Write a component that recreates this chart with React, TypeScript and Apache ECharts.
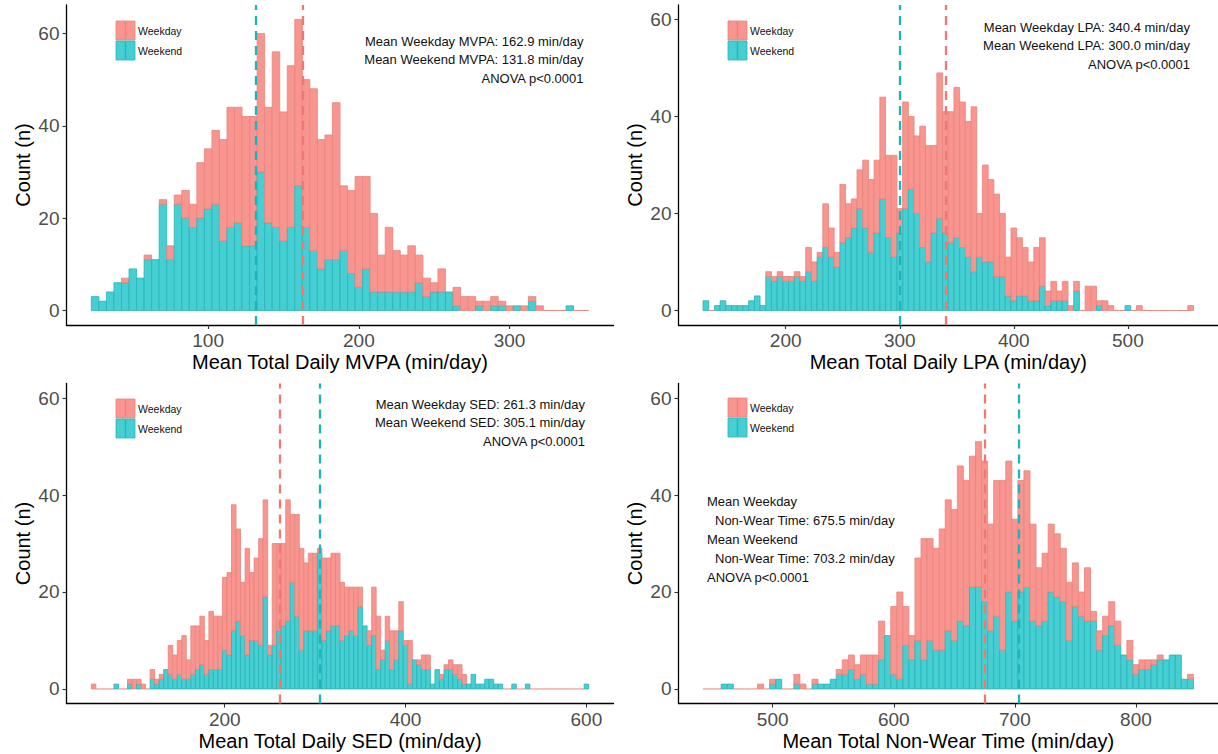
import React, { useEffect, useRef } from "react";
import * as echarts from "echarts";

// Histogram bins are 5 min wide; each array holds one count per bin.
const BIN_WIDTH = 5;

// Mean Total Daily MVPA
const mvpaFirstBin = 25;
const mvpaWeekend = [3,2,4,6,6,9,7,11,11,23, 11,23,20,18,20,22,23,15,18,19, 14,14,30,19,18,15,18,27,18,13, 9,11,11,13,8,5,9,4,4,4, 4,4,4,6,3,4,4,4,1,0, 0,1,0,1,1,0,1,0,2,0, 0,0,0,1,0,0];
const mvpaWeekday = [0,0,0,0,1,0,0,1,0,1, 3,2,6,5,12,13,16,22,26,25, 28,28,30,25,38,28,35,36,32,35, 28,27,34,14,18,24,20,17,8,14, 9,8,10,6,4,2,5,0,4,3, 3,1,2,2,1,1,0,1,1,1, 0,0,0,0,0,0];
const mvpaMeans = { weekday: 162.9, weekend: 131.8 };
const mvpaTicks = [100, 200, 300];

// Mean Total Daily LPA
const lpaFirstBin = 130;
const lpaWeekend = [2,0,1,2,1,1,1,1,2,3, 1,7,6,7,6,6,7,6,8,6, 11,13,11,9,14,15,17,21,17,12, 16,23,15,11,16,21,25,20,13,10, 16,19,16,14,15,13,11,8,11,10, 10,7,7,3,2,3,3,2,2,5, 1,2,2,2,0,4,0,0,0,1, 0,0,0,0,1,0,0,0,0,0, 0,0,0,0,0,0];
const lpaWeekday = [0,0,0,0,0,0,0,0,0,0, 0,1,1,1,1,1,1,1,5,4, 1,9,6,3,12,7,6,8,14,15, 15,21,17,21,5,22,15,16,25,24, 18,30,25,27,31,30,28,34,9,20, 17,17,13,8,15,12,10,8,11,10, 3,4,2,4,1,2,0,5,5,1, 2,1,0,0,0,0,1,0,0,0, 0,0,0,0,0,1];
const lpaMeans = { weekday: 340.4, weekend: 300.0 };
const lpaTicks = [200, 300, 400, 500];

// Mean Total Daily SED
const sedFirstBin = 55;
const sedWeekend = [0,0,0,0,0,1,0,0,1,0, 1,0,0,2,1,2,4,3,2,3, 2,2,3,4,5,3,4,4,4,8, 7,12,14,11,7,10,10,9,19,7, 9,12,13,14,22,15,8,12,12,12, 28,10,12,13,13,10,11,12,11,17, 13,9,11,4,6,10,4,6,12,9, 1,6,5,4,4,1,4,2,4,4, 3,2,1,1,3,1,1,2,2,1, 1,0,0,1,0,0,1,0,0,0, 0,0,0,0,0,0,0,0,0,1];
const sedWeekday = [1,0,0,0,0,0,0,0,1,2, 1,1,0,2,1,1,0,6,5,7, 9,4,10,9,10,7,12,11,11,15, 17,26,19,11,22,14,17,22,20,2, 21,18,17,25,14,21,21,14,16,16, 1,17,15,15,15,12,10,9,10,4, 0,3,10,11,2,5,8,6,6,1, 9,0,1,3,3,0,0,1,1,2, 2,3,2,0,0,0,0,0,0,0, 0,0,0,0,0,0,0,0,0,0, 0,0,0,0,0,0,0,0,0,0];
const sedMeans = { weekday: 261.3, weekend: 305.1 };
const sedTicks = [200, 400, 600];

// Mean Total Non-Wear Time
const nwFirstBin = 445;
const nwWeekend = [0,0,0,1,1,0,0,0,0,0, 0,1,2,0,0,1,0,0,1,1, 1,2,3,3,4,2,3,1,1,6, 11,3,2,9,6,10,6,10,8,8, 12,10,14,13,21,21,18,12,15,8, 20,14,20,21,14,13,14,20,19,18, 10,17,15,14,14,8,11,13,9,7, 6,3,4,4,5,6,6,7,7,2, 2];
const nwWeekday = [0,0,0,0,0,0,0,0,0,1, 0,1,0,0,0,2,1,0,1,0, 0,0,1,3,3,3,4,6,6,8, 0,14,18,8,5,17,25,21,21,25, 27,27,32,30,27,30,29,22,28,35, 27,21,23,24,20,12,14,14,13,11, 12,9,5,11,2,4,4,5,5,0, 4,2,2,2,1,1,0,0,0,0, 1];
const nwMeans = { weekday: 675.5, weekend: 703.2 };
const nwTicks = [500, 600, 700, 800];

const countTicks = [0, 20, 40, 60];
const legendLabels = ["Weekday", "Weekend"];

const FONT = '"Liberation Sans", Arial, Helvetica, sans-serif';
const RED_FILL = "#F8958F";
const RED_EDGE = "#E8847E";
const TEAL_FILL = "#45CFD3";
const TEAL_EDGE = "#2AB2B7";
const RED_LINE = "#F07870";
const TEAL_LINE = "#17B6BD";

type Panel = {
  firstBin: number;
  weekend: number[];
  weekday: number[];
  means: { weekday: number; weekend: number };
  ticks: number[];
  title: string;
  left: number;
  top: number;
  yLimit: number | null; // fixed upper count limit, null = from data
  legend: { x: number; y: number };
  notes: { x: number; y: number; align: "left" | "right"; lines: { text: string; dx?: number }[] };
};

const PANELS: Panel[] = [
  {
    firstBin: mvpaFirstBin, weekend: mvpaWeekend, weekday: mvpaWeekday, means: mvpaMeans, ticks: mvpaTicks,
    title: "Mean Total Daily MVPA (min/day)", left: 66.5, top: 5, yLimit: null,
    legend: { x: 116, y: 21 },
    notes: { x: 583.5, y: 41, align: "right", lines: [
      { text: "Mean Weekday MVPA: 162.9 min/day" },
      { text: "Mean Weekend MVPA: 131.8 min/day" },
      { text: "ANOVA p<0.0001" },
    ] },
  },
  {
    firstBin: lpaFirstBin, weekend: lpaWeekend, weekday: lpaWeekday, means: lpaMeans, ticks: lpaTicks,
    title: "Mean Total Daily LPA (min/day)", left: 678.5, top: 5, yLimit: 60,
    legend: { x: 728, y: 21 },
    notes: { x: 1190, y: 27, align: "right", lines: [
      { text: "Mean Weekday LPA: 340.4 min/day" },
      { text: "Mean Weekend LPA: 300.0 min/day" },
      { text: "ANOVA p<0.0001" },
    ] },
  },
  {
    firstBin: sedFirstBin, weekend: sedWeekend, weekday: sedWeekday, means: sedMeans, ticks: sedTicks,
    title: "Mean Total Daily SED (min/day)", left: 66.5, top: 383.5, yLimit: 60,
    legend: { x: 116, y: 399 },
    notes: { x: 585, y: 404, align: "right", lines: [
      { text: "Mean Weekday SED: 261.3 min/day" },
      { text: "Mean Weekend SED: 305.1 min/day" },
      { text: "ANOVA p<0.0001" },
    ] },
  },
  {
    firstBin: nwFirstBin, weekend: nwWeekend, weekday: nwWeekday, means: nwMeans, ticks: nwTicks,
    title: "Mean Total Non-Wear Time (min/day)", left: 678.5, top: 383.5, yLimit: 60,
    legend: { x: 728, y: 398 },
    notes: { x: 707, y: 501, align: "left", lines: [
      { text: "Mean Weekday" },
      { text: "Non-Wear Time: 675.5 min/day", dx: 8 },
      { text: "Mean Weekend" },
      { text: "Non-Wear Time: 703.2 min/day", dx: 8 },
      { text: "ANOVA p<0.0001" },
    ] },
  },
];

const PANEL_W = 547;
const PANEL_H = 320;

function buildOption() {
  const grids: any[] = [];
  const xAxes: any[] = [];
  const yAxes: any[] = [];
  const series: any[] = [];
  const graphics: any[] = [];

  PANELS.forEach((p, idx) => {
    const n = p.weekend.length;
    const centers = p.weekend.map((_, i) => p.firstBin + i * BIN_WIDTH);
    const lo = p.firstBin - BIN_WIDTH / 2;
    const hi = p.firstBin + (n - 1) * BIN_WIDTH + BIN_WIDTH / 2;
    const padX = (hi - lo) * 0.05;
    const tallest = Math.max(...p.weekend.map((w, i) => w + p.weekday[i]));
    const yTop = p.yLimit ?? tallest;
    const padY = yTop * 0.05;

    grids.push({ left: p.left, top: p.top, width: PANEL_W, height: PANEL_H, containLabel: false });

    xAxes.push({
      type: "value", gridIndex: idx, min: lo - padX, max: hi + padX,
      name: p.title, nameLocation: "middle", nameGap: 27,
      nameTextStyle: { fontSize: 20, color: "#000", fontFamily: FONT },
      axisLine: { show: true, onZero: false, lineStyle: { color: "#000", width: 1.3 } },
      axisTick: { show: true, length: 4, customValues: p.ticks, lineStyle: { color: "#333", width: 1.1 } },
      axisLabel: { customValues: p.ticks, fontSize: 19, color: "#4D4D4D", margin: 6, fontFamily: FONT },
      splitLine: { show: false },
    });
    yAxes.push({
      type: "value", gridIndex: idx, min: -padY, max: yTop + padY,
      name: "Count (n)", nameLocation: "middle", nameGap: 34, nameRotate: 90,
      nameTextStyle: { fontSize: 20, color: "#000", fontFamily: FONT },
      axisLine: { show: true, onZero: false, lineStyle: { color: "#000", width: 1.3 } },
      axisTick: { show: true, length: 4, customValues: countTicks, lineStyle: { color: "#333", width: 1.1 } },
      axisLabel: { customValues: countTicks, fontSize: 19, color: "#4D4D4D", margin: 7, fontFamily: FONT },
      splitLine: { show: false },
    });

    series.push({
      type: "custom",
      xAxisIndex: idx,
      yAxisIndex: idx,
      data: centers.map((c, i) => [c, p.weekend[i], p.weekday[i]]),
      encode: { x: 0, y: 1 },
      renderItem: (_params: any, api: any) => {
        const c = api.value(0);
        const we = api.value(1);
        const wd = api.value(2);
        const half = BIN_WIDTH / 2;
        const base = api.coord([c - half, 0]);
        const mid = api.coord([c + half, we]);
        const top = api.coord([c + half, we + wd]);
        const x0 = base[0];
        const w = mid[0] - base[0];
        const children: any[] = [];
        if (we + wd === 0) {
          children.push({
            type: "line",
            shape: { x1: x0, y1: base[1], x2: x0 + w, y2: base[1] },
            style: { stroke: RED_EDGE, lineWidth: 1 },
          });
        }
        if (we > 0) {
          children.push({
            type: "rect",
            shape: { x: x0, y: mid[1], width: w, height: base[1] - mid[1] },
            style: { fill: TEAL_FILL, stroke: TEAL_EDGE, lineWidth: 0.8 },
          });
        }
        if (wd > 0) {
          children.push({
            type: "rect",
            shape: { x: x0, y: top[1], width: w, height: mid[1] - top[1] },
            style: { fill: RED_FILL, stroke: RED_EDGE, lineWidth: 0.8 },
          });
        }
        return { type: "group", children };
      },
      markLine: {
        silent: true,
        symbol: ["none", "none"],
        label: { show: false },
        z: 10,
        data: [
          { xAxis: p.means.weekday, lineStyle: { color: RED_LINE, width: 2.3, type: [9, 6], opacity: 1 } },
          { xAxis: p.means.weekend, lineStyle: { color: TEAL_LINE, width: 2.3, type: [9, 6], opacity: 1 } },
        ],
      },
    });

    // legend keys
    const keys = [
      { fill: RED_FILL, edge: RED_EDGE, line: "#EC7A73" },
      { fill: TEAL_FILL, edge: TEAL_EDGE, line: "#1AAEB4" },
    ];
    keys.forEach((k, j) => {
      const ky = p.legend.y + j * 20;
      graphics.push({
        type: "rect",
        shape: { x: p.legend.x, y: ky, width: 19, height: 19 },
        style: { fill: k.fill, stroke: k.edge, lineWidth: 0.8 },
      });
      graphics.push({
        type: "line",
        shape: { x1: p.legend.x + 9.5, y1: ky + 1, x2: p.legend.x + 9.5, y2: ky + 18 },
        style: { stroke: k.line, lineWidth: 1.4, opacity: 0.75 },
      });
      graphics.push({
        type: "text",
        x: p.legend.x + 22,
        y: ky + 10,
        style: {
          text: legendLabels[j], fill: "#111", fontSize: 10.5, fontFamily: FONT,
          align: "left", verticalAlign: "middle", textAlign: "left", textVerticalAlign: "middle",
        },
      });
    });

    // mean / ANOVA notes
    p.notes.lines.forEach((ln, j) => {
      graphics.push({
        type: "text",
        x: p.notes.x + (ln.dx ?? 0),
        y: p.notes.y + j * (p.notes.align === "left" ? 19.1 : 18.9),
        style: {
          text: ln.text, fill: "#111", fontSize: 13, fontFamily: FONT,
          align: p.notes.align, verticalAlign: "middle",
          textAlign: p.notes.align, textVerticalAlign: "middle",
        },
      });
    });
  });

  return {
    animation: false,
    backgroundColor: "#ffffff",
    grid: grids,
    xAxis: xAxes,
    yAxis: yAxes,
    series,
    graphic: graphics,
  };
}

export default function App() {
  const ref = useRef<HTMLDivElement>(null);
  useEffect(() => {
    document.body.style.margin = "0";
    if (!ref.current) return;
    const chart = echarts.init(ref.current, undefined, { renderer: "svg" });
    chart.setOption(buildOption());
    return () => chart.dispose();
  }, []);
  return (
    <div
      ref={ref}
      style={{ position: "absolute", left: 0, top: 0, width: 1218, height: 754, background: "#fff" }}
    />
  );
}
